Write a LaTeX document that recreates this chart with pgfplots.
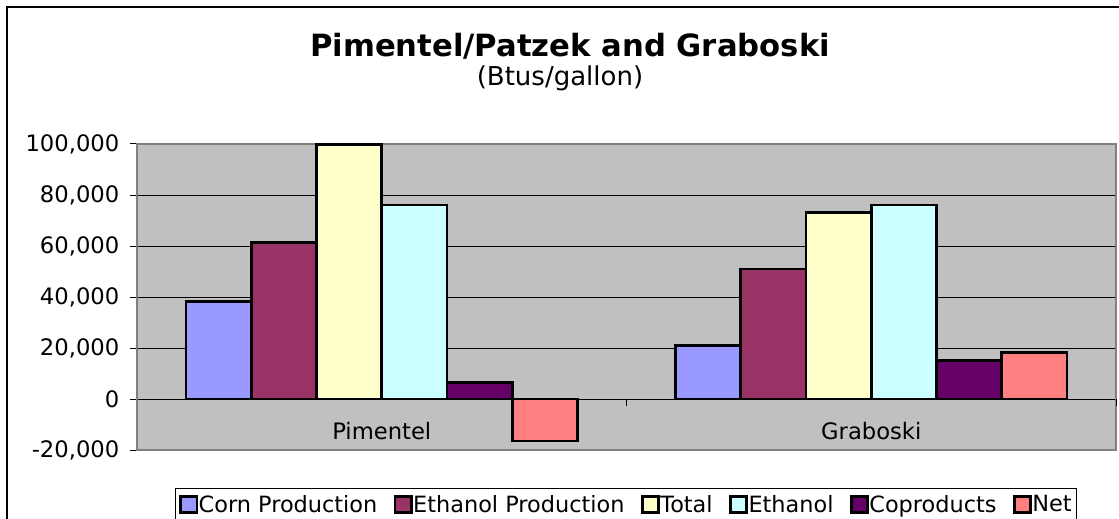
\documentclass[border=0pt]{standalone}
\usepackage{pgfplots}
\pgfplotsset{compat=1.18}
\usepackage{fontspec}
\setmainfont{DejaVu Sans}
\definecolor{cCorn}{HTML}{9999FF}
\definecolor{cEthP}{HTML}{993366}
\definecolor{cTot}{HTML}{FFFFCC}
\definecolor{cEth}{HTML}{CCFFFF}
\definecolor{cCop}{HTML}{660066}
\definecolor{cNet}{HTML}{FF8080}
\definecolor{plotbg}{HTML}{C0C0C0}
\definecolor{frame}{HTML}{808080}
\pgfplotsset{
  mybar/.style={ybar, bar width=0.13333, fill=#1, draw=black, line width=2pt,
    legend image code/.code={\draw[fill=#1, draw=black, line width=1.8pt] (0.9pt,-6pt) rectangle (13pt,6pt);}},
}
\begin{document}
\begin{tikzpicture}[x=0.75pt,y=0.75pt]
\useasboundingbox (0,0) rectangle (1119,518);
\begin{scope}
\clip (0,0) rectangle (1119,518);
\draw[black, line width=1.2pt] (7,-20) -- (7,511) -- (1140,511);
\end{scope}
\node[font=\bfseries\fontsize{23}{26}\selectfont, anchor=base, inner sep=0pt] at (570,461) {Pimentel/Patzek and Graboski};
\node[font=\fontsize{19.5}{22}\selectfont, anchor=base, inner sep=0pt] at (560,432) {(Btus/gallon)};
\begin{axis}[
  at={(102.75pt,51pt)}, anchor=south west, scale only axis,
  width=734.25pt, height=229.5pt,
  xmin=-0.5, xmax=1.5, ymin=-20000, ymax=100000,
  scaled y ticks=false,
  axis background/.style={fill=plotbg},
  axis line style={draw=frame, line width=1.5pt},
  ytick={-20000,0,20000,40000,60000,80000,100000},
  yticklabels={{-20,000},{0},{20,000},{40,000},{60,000},{80,000},{100,000}},
  ymajorgrids, grid style={black, line width=0.75pt},
  xtick={0,1}, xticklabels={Pimentel,Graboski},
  x tick style={draw=none},
  y tick style={black, line width=0.75pt},
  tick align=outside, major tick length=5.25pt,
  tick pos=left,
  ticklabel style={font=\fontsize{17}{19}\selectfont},
  yticklabel style={xshift=-4.5pt},
  xticklabel style={anchor=base, yshift=13pt},
  legend columns=6,
  legend style={at={(axis description cs:0.0388,-0.1242)}, anchor=north west,
    draw=black, line width=0.75pt, font=\fontsize{16.8}{19}\selectfont,
    inner xsep=3pt, inner ysep=3pt,
    nodes={inner xsep=0.5pt},
    /tikz/every even column/.append style={column sep=12pt}},
  legend cell align=left,
  clip=false,
]
\addplot[mybar=cCorn, bar shift=-0.33333] coordinates {(0,38200) (1,21100)};
\addlegendentry{Corn Production}
\addplot[mybar=cEthP, bar shift=-0.2] coordinates {(0,61500) (1,51000)};
\addlegendentry{Ethanol Production}
\addplot[mybar=cTot, bar shift=-0.06667] coordinates {(0,99700) (1,73100)};
\addlegendentry{Total}
\addplot[mybar=cEth, bar shift=0.06667] coordinates {(0,76100) (1,76100)};
\addlegendentry{Ethanol}
\addplot[mybar=cCop, bar shift=0.2] coordinates {(0,6600) (1,15100)};
\addlegendentry{Coproducts}
\addplot[mybar=cNet, bar shift=0.33333] coordinates {(0,-16500) (1,18200)};
\addlegendentry{Net}
\draw[black, line width=0.75pt] (axis cs:0.5,0) -- ([yshift=-5.25pt]axis cs:0.5,0);
\draw[black, line width=0.75pt] (axis cs:1.5,0) -- ([yshift=-5.25pt]axis cs:1.5,0);
\end{axis}
\end{tikzpicture}
\end{document}
